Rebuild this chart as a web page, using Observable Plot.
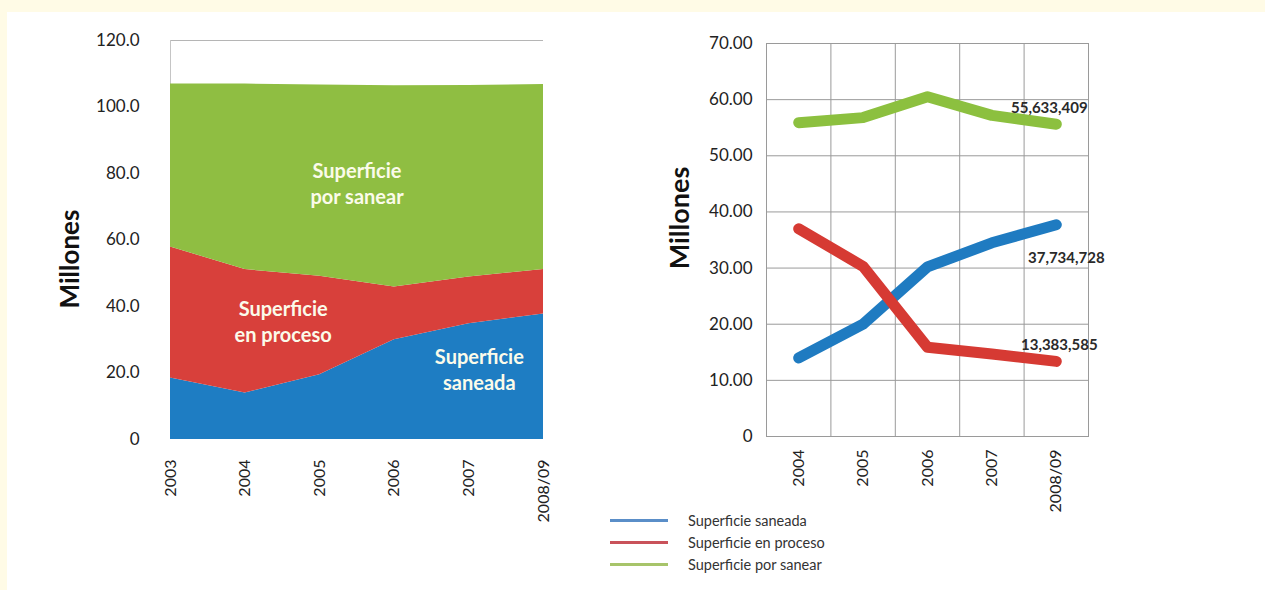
<!DOCTYPE html>
<html><head><meta charset="utf-8">
<script src="https://cdn.jsdelivr.net/npm/d3@7"></script>
<script src="https://cdn.jsdelivr.net/npm/@observablehq/plot@0.6"></script>
<style>
body{margin:0;}
#page{position:relative;width:1265px;height:590px;background:#fffbe6;overflow:hidden;font-family:Lato,sans-serif;}
#panel{position:absolute;left:7px;top:12px;right:0;bottom:0;background:#fff;}
#left{position:absolute;left:0;top:0;}
#right{position:absolute;left:600px;top:0;}
#legend{position:absolute;left:610px;top:509px;font-size:14.5px;color:#333;}
.row{display:flex;align-items:center;height:22px;}
.sw{width:58px;height:3px;margin-right:20px;}
</style></head><body>
<div id="page"><div id="panel"></div><div id="left"></div><div id="right"></div><div id="legend"></div></div>
<script>
const series = ["Superficie saneada", "Superficie en proceso", "Superficie por sanear"];
const areaColors = ["#1e7dc3", "#d8403b", "#8fbe42"];
const lineColors = ["#1f7bc1", "#d63a33", "#8cc03f"];
const legendColors = ["#5a8ec8", "#c9525a", "#a7c46a"];

// Left chart (stacked areas), millions
const leftYears = ["2003", "2004", "2005", "2006", "2007", "2008/09"];
const saneadaL = [18.5, 14.0, 19.5, 30.0, 34.8, 37.73];
const procesoL = [39.4, 37.1, 29.6, 15.9, 14.1, 13.38];
const sanearL  = [49.0, 55.8, 57.5, 60.5, 57.6, 55.63];
const leftTicksY = [0, 20, 40, 60, 80, 100, 120];
const areaLabels = ["Superficie\nsaneada", "Superficie\nen proceso", "Superficie\npor sanear"];
const areaLabelX = [4.14, 1.51, 2.5];
const areaLabelY = [21.4, 35.8, 77.3];

// Right chart (lines), millions
const rightYears = ["2004", "2005", "2006", "2007", "2008/09"];
const saneadaR = [14.0, 20.0, 30.2, 34.5, 37.73];
const procesoR = [37.0, 30.3, 15.9, 14.7, 13.38];
const sanearR  = [55.9, 56.8, 60.5, 57.2, 55.63];
const rightTicksY = [0, 10, 20, 30, 40, 50, 60, 70];
const endLabels = ["37,734,728", "13,383,585", "55,633,409"];

const leftSeries = [saneadaL, procesoL, sanearL];
const rightSeries = [saneadaR, procesoR, sanearR];

const leftData = series.flatMap((s, k) => leftYears.map((yr, i) => ({series: s, i, value: leftSeries[k][i]})));
const rightData = series.flatMap((s, k) => rightYears.map((yr, i) => ({series: s, x: i + 0.5, value: rightSeries[k][i]})));
const areaLabelData = areaLabels.map((t, k) => ({t, x: areaLabelX[k], y: areaLabelY[k]}));
const endData = series.map((s, k) => ({t: endLabels[k], x: rightYears.length - 0.5, y: rightSeries[k][rightYears.length - 1]}));

const font = "Lato, sans-serif";

const leftPlot = Plot.plot({
  width: 600, height: 590,
  marginLeft: 170, marginRight: 57, marginTop: 40, marginBottom: 151,
  style: {background: "transparent", fontFamily: font, color: "#222"},
  x: {domain: [0, leftYears.length - 1]},
  y: {domain: [0, 120]},
  color: {domain: series, range: areaColors},
  marks: [
    Plot.ruleY([120], {stroke: "#b5b5b5"}),
    Plot.ruleX([0], {stroke: "#c5c5c5"}),
    Plot.areaY(leftData, {x: "i", y: "value", fill: "series", order: series}),
    Plot.axisY({ticks: leftTicksY, tickFormat: d => d === 0 ? "0" : d.toFixed(1), tickSize: 0, tickPadding: 31, fontSize: 17, label: null}),
    Plot.axisX({ticks: d3.range(leftYears.length), tickFormat: i => leftYears[i], tickRotate: -90, tickSize: 0, tickPadding: 20, fontSize: 16, label: null}),
    Plot.text(["Millones"], {frameAnchor: "left", textAnchor: "middle", dx: -100, dy: 19, rotate: -90, fontSize: 26, fontWeight: "bold", fill: "#111"}),
    Plot.text(areaLabelData, {x: "x", y: "y", text: "t", fill: "#fbfbea", fontWeight: "bold", fontSize: 20, lineHeight: 1.3})
  ]
});
document.getElementById("left").append(leftPlot);

const endOffsets = [[10, 34], [3, -16], [-7, -16]];
const rightPlot = Plot.plot({
  width: 665, height: 590,
  marginLeft: 166, marginRight: 177, marginTop: 43, marginBottom: 154,
  style: {background: "transparent", fontFamily: font, color: "#222"},
  x: {domain: [0, rightYears.length]},
  y: {domain: [0, 70]},
  color: {domain: series, range: lineColors},
  marks: [
    Plot.gridX({ticks: d3.range(0, rightYears.length + 1), stroke: "#9a9a9a", strokeOpacity: 1}),
    Plot.gridY({ticks: rightTicksY, stroke: "#9a9a9a", strokeOpacity: 1}),
    Plot.frame({stroke: "#9a9a9a"}),
    Plot.lineY(rightData, {x: "x", y: "value", stroke: "series", z: "series", strokeWidth: 11, curve: "linear", strokeLinecap: "round", strokeLinejoin: "round"}),
    Plot.axisY({ticks: rightTicksY, tickFormat: d => d === 0 ? "0" : d.toFixed(2), tickSize: 0, tickPadding: 14, fontSize: 17, label: null}),
    Plot.axisX({ticks: rightYears.map((_, i) => i + 0.5), tickFormat: v => rightYears[Math.round(v - 0.5)], tickRotate: -90, tickSize: 0, tickPadding: 13, fontSize: 16, label: null}),
    Plot.text(["Millones"], {frameAnchor: "left", textAnchor: "middle", dx: -86, dy: -22, rotate: -90, fontSize: 27, fontWeight: "bold", fill: "#111"}),
    ...endData.map((d, k) => Plot.text([d], {x: "x", y: "y", text: "t", dx: endOffsets[k][0], dy: endOffsets[k][1], fontSize: 15, fontWeight: "bold", fill: "#2a2a2a"}))
  ]
});
document.getElementById("right").append(rightPlot);

const legend = document.getElementById("legend");
series.forEach((s, k) => {
  const row = document.createElement("div");
  row.className = "row";
  const sw = document.createElement("span");
  sw.className = "sw";
  sw.style.background = legendColors[k];
  const tx = document.createElement("span");
  tx.textContent = s;
  row.append(sw, tx);
  legend.append(row);
});
</script>
</body></html>
